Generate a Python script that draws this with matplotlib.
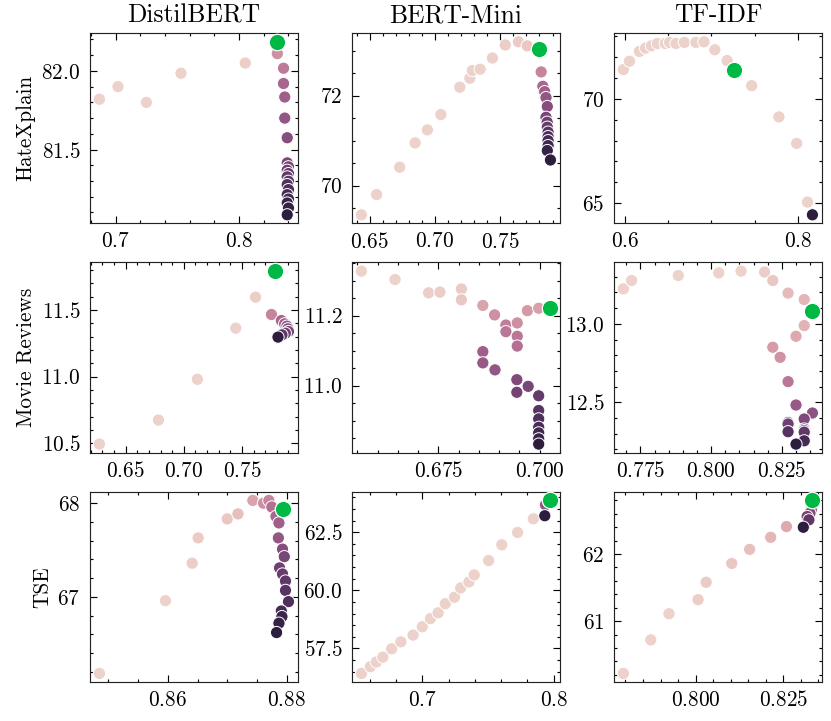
import matplotlib
matplotlib.use('Agg')
import matplotlib.pyplot as plt
from matplotlib.ticker import MaxNLocator, AutoMinorLocator
import seaborn as sns

GREEN = '#00B945'

MODELS = ['DistilBERT', 'BERT-Mini', 'TF-IDF']
DATASETS = ['HateXplain', 'Movie Reviews', 'TSE']

# HateXplain
hx_distil_x = [0.687, 0.702, 0.725, 0.753, 0.805, 0.831, 0.836, 0.836, 0.837, 0.837, 0.839,
               0.839, 0.840, 0.839, 0.840, 0.839, 0.840, 0.839, 0.840, 0.839, 0.840, 0.839, 0.840, 0.839]
hx_distil_y = [81.82, 81.90, 81.80, 81.985, 82.05, 82.11, 82.017, 81.92, 81.834, 81.70, 81.575,
               81.415, 81.39, 81.368, 81.347, 81.326, 81.298, 81.277, 81.245, 81.213, 81.185, 81.16, 81.128, 81.085]
hx_distil_h = [0.0, 0.0, 0.0, 0.0, 0.02, 0.3, 0.4, 0.5, 0.55, 0.6, 0.65,
               0.7, 0.72, 0.75, 0.77, 0.8, 0.82, 0.85, 0.87, 0.9, 0.92, 0.95, 0.97, 1.0]
hx_distil_best = (0.831, 82.185)

hx_mini_x = [0.6437, 0.6553, 0.673, 0.6848, 0.6942, 0.7045, 0.719, 0.7267, 0.7286, 0.7346, 0.744, 0.7538,
             0.7639, 0.7707, 0.7813, 0.7826, 0.784, 0.785, 0.786, 0.785, 0.7859, 0.786, 0.7866, 0.7866,
             0.7866, 0.7866, 0.786, 0.7884]
hx_mini_y = [69.35, 69.80, 70.41, 70.95, 71.24, 71.58, 72.19, 72.39, 72.56, 72.59, 72.84, 73.13,
             73.20, 73.11, 72.53, 72.21, 72.09, 71.96, 71.76, 71.52, 71.41, 71.30, 71.19, 71.09,
             71.00, 70.89, 70.78, 70.57]
hx_mini_h = [0.0, 0.0, 0.0, 0.0, 0.0, 0.0, 0.0, 0.0, 0.0, 0.0, 0.01, 0.02, 0.03, 0.05,
             0.35, 0.5, 0.55, 0.6, 0.65, 0.7, 0.74, 0.78, 0.82, 0.86, 0.9, 0.93, 0.96, 1.0]
hx_mini_best = (0.7795, 73.04)

hx_tfidf_x = [0.598, 0.605, 0.6165, 0.6237, 0.6305, 0.6374, 0.6465, 0.6515, 0.659, 0.6686, 0.682,
              0.6914, 0.704, 0.7182, 0.7467, 0.7783, 0.7989, 0.8114, 0.8171]
hx_tfidf_y = [71.40, 71.80, 72.27, 72.43, 72.54, 72.65, 72.65, 72.70, 72.65, 72.70, 72.70,
              72.73, 72.35, 71.83, 70.63, 69.13, 67.86, 65.05, 64.44]
hx_tfidf_h = [0.0] * 18 + [1.0]
hx_tfidf_best = (0.7257, 71.40)

# Movie Reviews
mr_distil_x = [0.6275, 0.6782, 0.7117, 0.7447, 0.7617, 0.7754, 0.7839, 0.7867, 0.7887, 0.7895,
               0.790, 0.7873, 0.7844, 0.781]
mr_distil_y = [10.495, 10.675, 10.98, 11.363, 11.595, 11.465, 11.42, 11.395, 11.378, 11.358,
               11.338, 11.325, 11.313, 11.296]
mr_distil_h = [0.0, 0.0, 0.0, 0.0, 0.02, 0.35, 0.5, 0.55, 0.6, 0.65, 0.7, 0.75, 0.8, 1.0]
mr_distil_best = (0.7782, 11.79)

mr_mini_x = [0.656, 0.6643, 0.6726, 0.6754, 0.6807, 0.6807, 0.686, 0.6889, 0.6917, 0.6917, 0.6945,
             0.6945, 0.6945, 0.697, 0.6998, 0.686, 0.686, 0.689, 0.6944, 0.6944, 0.6972, 0.6998,
             0.6998, 0.6998, 0.6998, 0.6998, 0.6998, 0.6998]
mr_mini_y = [11.327, 11.303, 11.265, 11.267, 11.276, 11.245, 11.229, 11.202, 11.173, 11.154, 11.179,
             11.141, 11.113, 11.214, 11.221, 11.097, 11.065, 11.045, 11.017, 10.981, 10.998, 10.971,
             10.929, 10.905, 10.881, 10.865, 10.848, 10.833]
mr_mini_h = [0.0, 0.0, 0.02, 0.02, 0.03, 0.05, 0.2, 0.3, 0.38, 0.42, 0.3, 0.42, 0.45, 0.25, 0.22,
             0.55, 0.58, 0.6, 0.68, 0.72, 0.7, 0.78, 0.83, 0.86, 0.89, 0.92, 0.96, 1.0]
mr_mini_best = (0.7027, 11.222)

mr_tfidf_x = [0.769, 0.7719, 0.7884, 0.8027, 0.8106, 0.8189, 0.8218, 0.8272, 0.8329, 0.8329, 0.830,
              0.8218, 0.8244, 0.8272, 0.830, 0.8358, 0.8329, 0.8272, 0.8272, 0.8272, 0.8329, 0.8329,
              0.8329, 0.8329, 0.830]
mr_tfidf_y = [13.223, 13.276, 13.308, 13.325, 13.336, 13.33, 13.276, 13.196, 13.155, 12.989, 12.921,
              12.851, 12.787, 12.632, 12.483, 12.432, 12.394, 12.372, 12.362, 12.313, 12.33, 12.32,
              12.31, 12.255, 12.234]
mr_tfidf_h = [0.0, 0.0, 0.0, 0.0, 0.0, 0.02, 0.05, 0.1, 0.12, 0.14, 0.18, 0.24, 0.28, 0.42, 0.58,
              0.62, 0.68, 0.72, 0.74, 0.84, 0.76, 0.78, 0.8, 0.9, 1.0]
mr_tfidf_best = (0.8356, 13.085)

# TSE
tse_distil_x = [0.8485, 0.8596, 0.8641, 0.8651, 0.870, 0.8718, 0.8743, 0.8761, 0.877, 0.8775, 0.8782,
                0.8787, 0.8786, 0.8793, 0.8796, 0.8788, 0.8793, 0.8798, 0.8798, 0.8803, 0.8791, 0.8792,
                0.8787, 0.8783]
tse_distil_y = [66.184, 66.96, 67.36, 67.63, 67.833, 67.886, 68.03, 68.0, 68.03, 67.96, 67.86,
                67.79, 67.63, 67.51, 67.43, 67.31, 67.245, 67.17, 67.07, 66.95, 66.85, 66.79,
                66.72, 66.62]
tse_distil_h = [0.0, 0.0, 0.02, 0.03, 0.05, 0.08, 0.2, 0.3, 0.35, 0.45, 0.5, 0.55, 0.6, 0.65, 0.7,
                0.74, 0.77, 0.8, 0.83, 0.86, 0.9, 0.93, 0.96, 1.0]
tse_distil_best = (0.8793, 67.94)

tse_mini_x = [0.6537, 0.6605, 0.665, 0.670, 0.6767, 0.6837, 0.693, 0.700, 0.7062, 0.712, 0.7175,
              0.7245, 0.7292, 0.7355, 0.7395, 0.7505, 0.7605, 0.7725, 0.7845, 0.7937, 0.7932]
tse_mini_y = [56.42, 56.71, 56.91, 57.12, 57.48, 57.78, 58.07, 58.43, 58.78, 59.03, 59.42,
              59.70, 60.10, 60.36, 60.66, 61.28, 61.96, 62.49, 63.08, 63.68, 63.21]
tse_mini_h = [0.0] * 19 + [0.6, 1.0]
tse_mini_best = (0.7975, 63.87)

tse_tfidf_x = [0.7794, 0.7872, 0.7924, 0.8007, 0.803, 0.8103, 0.8154, 0.8214, 0.8259,
               0.8333, 0.833, 0.8326, 0.8318, 0.8323, 0.8307]
tse_tfidf_y = [60.22, 60.72, 61.11, 61.32, 61.58, 61.86, 62.07, 62.25, 62.41,
               62.71, 62.66, 62.61, 62.56, 62.51, 62.40]
tse_tfidf_h = [0.0, 0.0, 0.0, 0.02, 0.03, 0.05, 0.08, 0.12, 0.18,
               0.5, 0.58, 0.65, 0.72, 0.8, 1.0]
tse_tfidf_best = (0.8333, 62.80)

panels = [
    [(hx_distil_x, hx_distil_y, hx_distil_h, hx_distil_best),
     (hx_mini_x, hx_mini_y, hx_mini_h, hx_mini_best),
     (hx_tfidf_x, hx_tfidf_y, hx_tfidf_h, hx_tfidf_best)],
    [(mr_distil_x, mr_distil_y, mr_distil_h, mr_distil_best),
     (mr_mini_x, mr_mini_y, mr_mini_h, mr_mini_best),
     (mr_tfidf_x, mr_tfidf_y, mr_tfidf_h, mr_tfidf_best)],
    [(tse_distil_x, tse_distil_y, tse_distil_h, tse_distil_best),
     (tse_mini_x, tse_mini_y, tse_mini_h, tse_mini_best),
     (tse_tfidf_x, tse_tfidf_y, tse_tfidf_h, tse_tfidf_best)],
]

# science-style look, scaled up for a 100 dpi canvas
k = 1.66
plt.rcParams.update({
    'font.family': 'serif',
    'font.serif': ['cmr10', 'DejaVu Serif'],
    'mathtext.fontset': 'cm',
    'axes.formatter.use_mathtext': True,
    'font.size': 15.3,
    'axes.linewidth': 0.5 * k,
    'axes.edgecolor': '#222222',
    'xtick.direction': 'in',
    'ytick.direction': 'in',
    'xtick.top': True,
    'ytick.right': True,
    'xtick.major.size': 3 * k,
    'ytick.major.size': 3 * k,
    'xtick.minor.size': 1.5 * k,
    'ytick.minor.size': 1.5 * k,
    'xtick.major.width': 0.5 * k,
    'ytick.major.width': 0.5 * k,
    'xtick.minor.width': 0.5 * k,
    'ytick.minor.width': 0.5 * k,
    'xtick.major.pad': 6,
    'ytick.major.pad': 7,
})

cmap = sns.cubehelix_palette(as_cmap=True)

fig, axes = plt.subplots(3, 3, figsize=(8.31, 7.21), dpi=100)
fig.subplots_adjust(left=0.1083, right=0.989, top=0.954, bottom=0.054, wspace=0.26, hspace=0.205)

for i, row in enumerate(panels):
    for j, (x, y, h, best) in enumerate(row):
        ax = axes[i, j]
        sns.scatterplot(x=x, y=y, hue=h, palette=cmap, hue_norm=(0, 1), s=78,
                        legend=False, ax=ax, zorder=2)
        ax.scatter([best[0]], [best[1]], s=140, color=GREEN, edgecolor='w',
                   linewidth=0.9, zorder=3)
        ax.xaxis.set_major_locator(MaxNLocator(nbins=2, steps=[1, 2, 2.5, 5, 10]))
        ax.yaxis.set_major_locator(MaxNLocator(nbins=3, steps=[1, 2, 2.5, 5, 10]))
        ax.xaxis.set_minor_locator(AutoMinorLocator())
        ax.yaxis.set_minor_locator(AutoMinorLocator())
        ax.set_xlabel('')
        ax.set_ylabel('')
        if i == 0:
            ax.set_title(MODELS[j], pad=8)
        if j == 0:
            ax.set_ylabel(DATASETS[i])

fig.savefig('out.png', dpi=100)
